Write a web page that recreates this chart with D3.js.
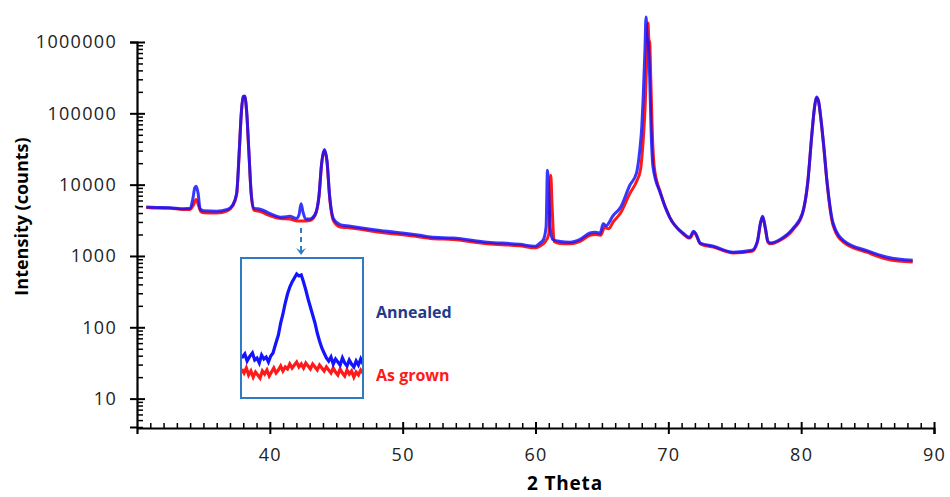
<!DOCTYPE html>
<html>
<head>
<meta charset="utf-8">
<script src="https://cdn.jsdelivr.net/npm/d3@7"></script>
<style>
  body { margin: 0; background: #fff; }
  text { font-family: "Open Sans", sans-serif; }
</style>
</head>
<body>
<div id="chart"></div>
<script>
// XRD scan, [2theta, counts]
const annealed = [
  [30.7, 4850], [31.5, 4800], [32.5, 4750], [33.5, 4600], [34.0, 4650], [34.2, 6300],
  [34.35, 9000], [34.45, 9500], [34.6, 7600], [34.75, 4600], [35.0, 4300], [36.0, 4250],
  [36.8, 4500], [37.2, 5200], [37.5, 7500], [37.7, 30000], [37.85, 100000], [38.0, 172000],
  [38.1, 175000], [38.25, 110000], [38.42, 30000], [38.6, 7500], [38.8, 4700], [39.3, 4500],
  [39.6, 4300], [39.8, 4100], [40.2, 3800], [40.8, 3500], [41.3, 3550], [41.5, 3600],
  [42.0, 3350], [42.2, 3800], [42.35, 5400], [42.5, 4100], [42.7, 3300], [43.0, 3300],
  [43.4, 3800], [43.7, 7000], [43.9, 20000], [44.1, 31000], [44.3, 22000], [44.5, 7000],
  [44.8, 3300], [45.3, 2750], [45.8, 2660], [48.3, 2270], [51.3, 1950], [52.1, 1840],
  [53.8, 1780], [56.4, 1560], [58.8, 1460], [60.0, 1370], [60.3, 1500], [60.6, 1700],
  [60.8, 2600], [60.9, 15900], [61.0, 8000], [61.1, 2500], [61.3, 1700], [61.85, 1600],
  [62.6, 1560], [63.35, 1710], [64.1, 2100], [64.5, 2150], [64.86, 2080], [65.1, 2820],
  [65.3, 2650], [65.85, 3700], [66.4, 4800], [67.1, 9800], [67.6, 14500], [67.85, 30500],
  [68.0, 64000], [68.1, 153000], [68.24, 770000], [68.32, 2240000], [68.4, 1200000],
  [68.5, 950000], [68.6, 300000], [68.7, 60000], [68.85, 17500], [69.4, 7570], [70.1, 3480],
  [71.1, 2100], [71.6, 1820], [71.9, 2230], [72.1, 2000], [72.4, 1520], [73.4, 1370],
  [74.9, 1130], [76.3, 1200], [76.7, 1600], [76.95, 3000], [77.1, 3600], [77.3, 2500],
  [77.5, 1600], [77.7, 1520], [78.4, 1700], [79.4, 2450], [80.1, 4000], [80.5, 11000],
  [80.8, 50000], [81.0, 120000], [81.15, 169000], [81.3, 150000], [81.5, 80000],
  [81.7, 35000], [81.95, 11000], [82.4, 2900], [83.2, 1640], [85.0, 1180], [86.5, 960],
  [88.4, 870]
];

const asGrown = [
  [30.7, 4800], [31.5, 4700], [32.5, 4650], [33.5, 4500], [34.0, 4500], [34.25, 5200],
  [34.45, 6200], [34.65, 5000], [34.8, 4200], [35.0, 4050], [36.0, 4000], [36.8, 4300],
  [37.2, 5000], [37.5, 7300], [37.7, 29000], [37.85, 98000], [38.0, 170000], [38.1, 172000],
  [38.25, 108000], [38.42, 29000], [38.6, 7200], [38.8, 4400], [39.3, 4200], [39.8, 3800],
  [40.8, 3350], [41.5, 3300], [42.0, 3100], [42.5, 3100], [43.0, 3150], [43.4, 3700],
  [43.7, 6800], [43.9, 19500], [44.1, 30000], [44.3, 21000], [44.5, 6700], [44.8, 3100],
  [45.3, 2550], [45.8, 2500], [48.3, 2150], [51.3, 1850], [52.1, 1760], [53.8, 1700],
  [56.4, 1480], [58.8, 1390], [60.0, 1300], [60.4, 1400], [60.7, 1550], [61.0, 2000],
  [61.15, 13500], [61.25, 5000], [61.4, 1600], [61.85, 1500], [62.6, 1480], [63.35, 1600],
  [64.1, 1950], [64.5, 2000], [64.9, 1950], [65.2, 2500], [65.5, 2400], [65.85, 3000],
  [66.4, 4000], [67.1, 7500], [67.6, 11000], [67.9, 16000], [68.1, 40000], [68.25, 120000],
  [68.38, 600000], [68.47, 1850000], [68.53, 1100000], [68.6, 970000], [68.68, 300000],
  [68.8, 50000], [68.95, 17000], [69.4, 7800], [70.1, 3500], [71.1, 2050], [71.6, 1780],
  [71.95, 2150], [72.1, 1950], [72.4, 1480], [73.4, 1330], [74.9, 1100], [76.3, 1160],
  [76.7, 1550], [76.95, 2900], [77.1, 3500], [77.3, 2450], [77.5, 1560], [77.7, 1480],
  [78.4, 1650], [79.4, 2350], [80.1, 3900], [80.5, 10800], [80.8, 49000], [81.0, 118000],
  [81.15, 166000], [81.3, 148000], [81.5, 78000], [81.7, 34000], [81.95, 10500],
  [82.4, 2700], [83.2, 1550], [85.0, 1120], [86.5, 900], [88.4, 820]
];

// inset: zoom on the 42.3 deg reflection (linear counts)
const insetAnnealed = [
  [41.56, 3600], [41.60, 3680], [41.63, 3540], [41.66, 3620], [41.70, 3700], [41.73, 3560],
  [41.76, 3600], [41.79, 3500], [41.82, 3660], [41.85, 3580], [41.88, 3620], [41.91, 3520],
  [41.94, 3640], [41.97, 3700], [42.00, 3860], [42.04, 4060], [42.07, 4300], [42.10, 4480],
  [42.13, 4700], [42.16, 4880], [42.19, 5020], [42.22, 5120], [42.25, 5200], [42.28, 5280],
  [42.31, 5240], [42.34, 5260], [42.37, 5120], [42.40, 4960], [42.43, 4780], [42.46, 4620],
  [42.49, 4460], [42.52, 4300], [42.55, 4100], [42.58, 3940], [42.61, 3800], [42.64, 3700],
  [42.67, 3600], [42.70, 3540], [42.73, 3620], [42.76, 3480], [42.79, 3580], [42.82, 3520],
  [42.85, 3460], [42.88, 3600], [42.91, 3500], [42.94, 3440], [42.97, 3560], [43.00, 3480],
  [43.03, 3420], [43.06, 3540], [43.09, 3460], [43.12, 3580], [43.15, 3480]
];
const insetAsGrown = [
  [41.56, 3380], [41.59, 3300], [41.62, 3400], [41.65, 3260], [41.68, 3340], [41.71, 3220],
  [41.74, 3320], [41.77, 3260], [41.80, 3200], [41.83, 3340], [41.86, 3280], [41.89, 3360],
  [41.92, 3240], [41.95, 3320], [41.98, 3400], [42.01, 3300], [42.04, 3360], [42.07, 3440],
  [42.10, 3340], [42.13, 3420], [42.16, 3380], [42.19, 3480], [42.22, 3400], [42.25, 3460],
  [42.28, 3520], [42.31, 3420], [42.34, 3480], [42.37, 3400], [42.40, 3500], [42.43, 3440],
  [42.46, 3380], [42.49, 3480], [42.52, 3420], [42.55, 3360], [42.58, 3460], [42.61, 3400],
  [42.64, 3340], [42.67, 3420], [42.70, 3360], [42.73, 3300], [42.76, 3400], [42.79, 3320],
  [42.82, 3260], [42.85, 3380], [42.88, 3300], [42.91, 3240], [42.94, 3360], [42.97, 3280],
  [43.00, 3340], [43.03, 3220], [43.06, 3320], [43.09, 3260], [43.12, 3360], [43.15, 3300]
];

const xMajor = [40, 50, 60, 70, 80, 90];
const yMajor = [10, 100, 1000, 10000, 100000, 1000000];

const width = 950, height = 497;
const margin = { top: 42, right: 16, bottom: 70, left: 137 };

const svg = d3.select("#chart").append("svg")
  .attr("width", width).attr("height", height);

const x = d3.scaleLinear().domain([30, 90]).range([margin.left, width - margin.right]);
const y = d3.scaleLog().domain([4, 1000000]).range([height - margin.bottom, margin.top]);

const blue = "#1414ff", red = "#ff1a1a", boxBlue = "#2e7bc4";

// lines
const line = d3.line().x(d => x(d[0])).y(d => y(d[1])).curve(d3.curveMonotoneX);
svg.append("path").datum(asGrown).attr("d", line)
  .attr("fill", "none").attr("stroke", red).attr("stroke-width", 3);
svg.append("path").datum(annealed).attr("d", line)
  .attr("fill", "none").attr("stroke", blue).attr("stroke-width", 3).attr("opacity", 0.85);

// y axis
const yMinor = y.ticks().filter(v => !yMajor.includes(v));
const gy = svg.append("g").attr("transform", `translate(${margin.left},0)`)
  .call(d3.axisLeft(y).tickValues(yMajor).tickFormat(d3.format("d")).tickSize(7).tickPadding(13));
gy.selectAll(".tick line").attr("x2", -7).attr("x1", 8).attr("stroke-width", 2);
svg.append("g").attr("transform", `translate(${margin.left},0)`)
  .call(d3.axisRight(y).tickValues(yMinor).tickSize(6).tickFormat(""))
  .call(g => g.select(".domain").remove())
  .selectAll(".tick line").attr("stroke-width", 1.5);

// x axis
const xMinor = d3.range(31, 90).filter(v => !xMajor.includes(v));
const gx = svg.append("g").attr("transform", `translate(0,${height - margin.bottom + 1})`)
  .call(d3.axisBottom(x).tickValues(xMajor).tickSize(6).tickPadding(14));
gx.selectAll(".tick line").attr("y1", -6).attr("y2", 6).attr("stroke-width", 2);
gx.selectAll(".tick text").attr("y", 20);
svg.append("g").attr("transform", `translate(0,${height - margin.bottom + 1})`)
  .call(d3.axisTop(x).tickValues(xMinor).tickSize(5).tickFormat(""))
  .call(g => g.select(".domain").remove())
  .selectAll(".tick line").attr("stroke-width", 1.5);

[gx, gy].forEach(g => {
  g.select(".domain").attr("stroke-width", 2.2);
  g.selectAll(".tick text").attr("font-size", 18).attr("fill", "#222")
    .attr("letter-spacing", 1.3)
    .attr("font-family", "Open Sans, sans-serif");
});

// axis titles
svg.append("text")
  .attr("transform", `translate(28,${(135 + 298) / 2}) rotate(-90)`)
  .attr("text-anchor", "middle").attr("font-weight", "bold").attr("font-size", 18)
  .text("Intensity (counts)");
svg.append("text")
  .attr("x", 565).attr("y", 490).attr("text-anchor", "middle")
  .attr("font-weight", "bold").attr("font-size", 19).attr("letter-spacing", 0.8)
  .text("2 Theta");

// inset
const inset = { x0: 241, x1: 363, y0: 258, y1: 398 };
const ix = d3.scaleLinear().domain([41.55, 43.15]).range([inset.x0, inset.x1]);
const iy = d3.scaleLinear().domain([2800, 5600]).range([inset.y1, inset.y0]);
const iline = d3.line().x(d => ix(d[0])).y(d => iy(d[1]));

svg.append("clipPath").attr("id", "insetClip").append("rect")
  .attr("x", inset.x0).attr("y", inset.y0)
  .attr("width", inset.x1 - inset.x0).attr("height", inset.y1 - inset.y0);
const gi = svg.append("g").attr("clip-path", "url(#insetClip)");
gi.append("rect").attr("x", inset.x0).attr("y", inset.y0)
  .attr("width", inset.x1 - inset.x0).attr("height", inset.y1 - inset.y0).attr("fill", "#fff");
gi.append("path").datum(insetAsGrown).attr("d", iline)
  .attr("fill", "none").attr("stroke", red).attr("stroke-width", 3.2);
gi.append("path").datum(insetAnnealed).attr("d", iline)
  .attr("fill", "none").attr("stroke", blue).attr("stroke-width", 3.2);
svg.append("rect").attr("x", inset.x0).attr("y", inset.y0)
  .attr("width", inset.x1 - inset.x0).attr("height", inset.y1 - inset.y0)
  .attr("fill", "none").attr("stroke", boxBlue).attr("stroke-width", 2);

// dashed pointer from the small peak to the inset
const px = x(42.35);
svg.append("line").attr("x1", px).attr("x2", px).attr("y1", 228).attr("y2", 252)
  .attr("stroke", boxBlue).attr("stroke-width", 2).attr("stroke-dasharray", "5,4");
svg.append("path")
  .attr("d", `M${px - 5},${248} L${px},${255} L${px + 5},${248} L${px},${251} Z`)
  .attr("fill", boxBlue);

svg.append("text").attr("x", 376).attr("y", 318)
  .attr("font-weight", "bold").attr("font-size", 16).attr("fill", "#1f3a8a")
  .text("Annealed");
svg.append("text").attr("x", 376).attr("y", 381)
  .attr("font-weight", "bold").attr("font-size", 16).attr("fill", "#ff1a1a")
  .text("As grown");
</script>
</body>
</html>
